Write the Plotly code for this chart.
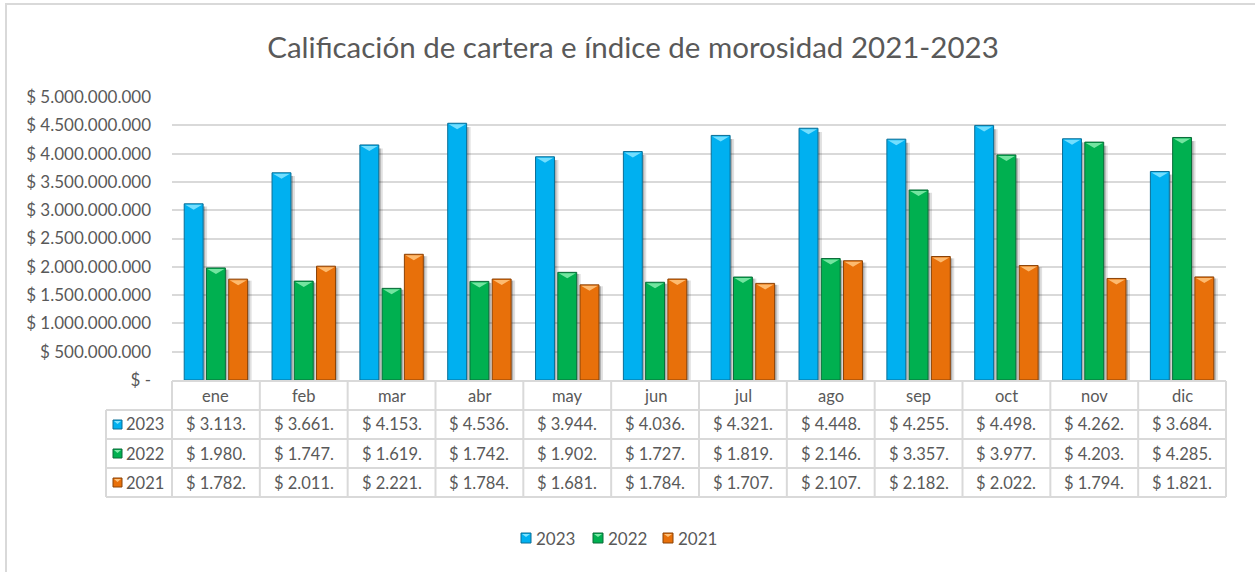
import plotly.graph_objects as go

# ---------------- data ----------------
months = ["ene", "feb", "mar", "abr", "may", "jun", "jul", "ago", "sep", "oct", "nov", "dic"]
series_names = ["2023", "2022", "2021"]
v2023 = [3113, 3661, 4153, 4536, 3944, 4036, 4321, 4448, 4255, 4498, 4262, 3684]  # millions
v2022 = [1980, 1747, 1619, 1742, 1902, 1727, 1819, 2146, 3357, 3977, 4203, 4285]
v2021 = [1782, 2011, 2221, 1784, 1681, 1784, 1707, 2107, 2182, 2022, 1794, 1821]
tick_vals = [0, 500e6, 1000e6, 1500e6, 2000e6, 2500e6, 3000e6, 3500e6, 4000e6, 4500e6, 5000e6]
tick_text = ["$ -", "$ 500.000.000", "$ 1.000.000.000", "$ 1.500.000.000", "$ 2.000.000.000",
             "$ 2.500.000.000", "$ 3.000.000.000", "$ 3.500.000.000", "$ 4.000.000.000",
             "$ 4.500.000.000", "$ 5.000.000.000"]
title_text = "Calificación de cartera e índice de morosidad 2021-2023"

# ---------------- style ----------------
W, H = 1255, 572
colors = ["#00B0F0", "#00B050", "#E8700A"]
edges = ["#0A6E96", "#0A6B38", "#8A4206"]
tops = ["#7FE3FF", "#7FEAA8", "#FFC27A"]
txt = "#595959"
grid = "#D9D9D9"
FONT = "Lato"
FS = 16.5

PX0, PX1 = 172, 1226     # plot area x pixels
PY0, PY1 = 97, 380       # plot area y pixels (top, bottom)
def px(x): return x / W
def py(y): return 1 - y / H

BARGAP = 0.24
GROUPGAP = 0.15

series = [v2023, v2022, v2021]
fig = go.Figure()
for name, vals, c, e in zip(series_names, series, colors, edges):
    fig.add_trace(go.Bar(
        x=months, y=[v * 1e6 for v in vals], name=name, showlegend=False,
        marker=dict(color=c, line=dict(color=e, width=1)),
    ))

shapes = []
annotations = []

# bevel highlight at top of each bar and soft shadow (anchored to data values)
slot = (1 - BARGAP) / 3
barw_px = (PX1 - PX0) / len(months) * slot * (1 - GROUPGAP)
hw = barw_px / 2
for k, (vals, tc) in enumerate(zip(series, tops)):
    off = (k - 1) * slot
    for i, v in enumerate(vals):
        shapes.append(dict(
            type="path", xref="x", yref="y",
            xsizemode="pixel", ysizemode="pixel",
            xanchor=i + off, yanchor=v * 1e6,
            path=f"M {-hw+1:.2f},-1 L {hw-1:.2f},-1 L 0,-6 Z",
            fillcolor=tc, line=dict(width=0), opacity=0.9, layer="above",
        ))
        for d, a in ((2, 0.22), (4, 0.12)):
            shapes.append(dict(
                type="rect", xref="x", yref="y", xsizemode="pixel",
                xanchor=i + off, x0=hw - 1, x1=hw + d, y0=0, y1=v * 1e6 * 0.985,
                fillcolor=f"rgba(0,0,0,{a})", line=dict(width=0), layer="between",
            ))

# outer chart border (top/left visible)
shapes.append(dict(type="rect", xref="paper", yref="paper",
                   x0=px(6), x1=px(1300), y0=py(620), y1=py(4),
                   line=dict(color="#D9D9D9", width=2), layer="below"))

# data table lines
ROWS = [381, 410, 439, 468, 497]
TBL_L = 106
cat_w = (PX1 - PX0) / len(months)
lc = dict(color=grid, width=2)
for j, y in enumerate(ROWS):
    x0 = PX0 if j == 0 else TBL_L
    shapes.append(dict(type="line", xref="paper", yref="paper",
                       x0=px(x0), x1=px(PX1), y0=py(y), y1=py(y), line=lc))
shapes.append(dict(type="line", xref="paper", yref="paper",
                   x0=px(TBL_L), x1=px(TBL_L), y0=py(ROWS[1]), y1=py(ROWS[-1]), line=lc))
for i in range(len(months) + 1):
    x = PX0 + i * cat_w
    shapes.append(dict(type="line", xref="paper", yref="paper",
                       x0=px(x), x1=px(x), y0=py(ROWS[0]), y1=py(ROWS[-1]), line=lc))

tf = dict(family=FONT, size=FS, color=txt)
# header texts
for m in months:
    annotations.append(dict(x=m, xref="x", y=py((ROWS[0] + ROWS[1]) / 2), yref="paper",
                            text=m, showarrow=False, xanchor="center", yanchor="middle", font=tf))


def key(xl, yc, r, size=9):
    shapes.append(dict(type="rect", xref="paper", yref="paper",
                       x0=px(xl), x1=px(xl + size), y0=py(yc + size / 2), y1=py(yc - size / 2),
                       fillcolor=colors[r], line=dict(color=edges[r], width=1)))
    shapes.append(dict(type="path", xref="paper", yref="paper",
                       path=(f"M {px(xl+1)},{py(yc-size/2+1)} L {px(xl+size-1)},{py(yc-size/2+1)} "
                             f"L {px(xl+size/2)},{py(yc-size/2+4)} Z"),
                       fillcolor=tops[r], line=dict(width=0)))


# row values
for r, (name, vals) in enumerate(zip(series_names, series)):
    yc = (ROWS[r + 1] + ROWS[r + 2]) / 2
    for i, v in enumerate(vals):
        label = "$ " + f"{v:,}".replace(",", ".") + "."
        annotations.append(dict(x=months[i], xref="x", y=py(yc), yref="paper",
                                text=label, showarrow=False, xanchor="center",
                                yanchor="middle", font=tf))
    key(113, yc, r)
    annotations.append(dict(x=px(124), xref="paper", y=py(yc), yref="paper",
                            text=name, showarrow=False, xanchor="left", yanchor="middle",
                            font=tf))

# manual legend
LEG_Y = 538
for r, (name, xl) in enumerate(zip(series_names, [521, 593, 663])):
    key(xl, LEG_Y, r, size=10)
    annotations.append(dict(x=px(xl + 13), xref="paper", y=py(LEG_Y), yref="paper",
                            text=name, showarrow=False, xanchor="left", yanchor="middle",
                            font=dict(family=FONT, size=17, color=txt)))

fig.update_layout(
    width=W, height=H,
    margin=dict(l=0, r=0, t=0, b=0, pad=0, autoexpand=False),
    paper_bgcolor="white", plot_bgcolor="white",
    barmode="group", bargap=BARGAP, bargroupgap=GROUPGAP,
    showlegend=False,
    title=dict(text=title_text, x=px(633), xanchor="center", y=py(48), yanchor="middle",
               font=dict(family=FONT, size=29.5, color=txt)),
    xaxis=dict(domain=[px(PX0), px(PX1)], showticklabels=False, showgrid=False,
               showline=False, zeroline=False, ticks="", automargin=False),
    yaxis=dict(domain=[py(PY1), py(PY0)], range=[0, 5e9], tickvals=tick_vals,
               ticktext=tick_text, showgrid=True, gridcolor=grid, gridwidth=2,
               zeroline=False, showline=False, ticks="", ticklabelstandoff=20,
               automargin=False, tickfont=dict(family=FONT, size=17, color=txt)),
    shapes=shapes, annotations=annotations,
    font=dict(family=FONT, color=txt),
)

fig.write_html("out.html", config={"displayModeBar": False},
               post_script="document.body.style.margin='0px';")
